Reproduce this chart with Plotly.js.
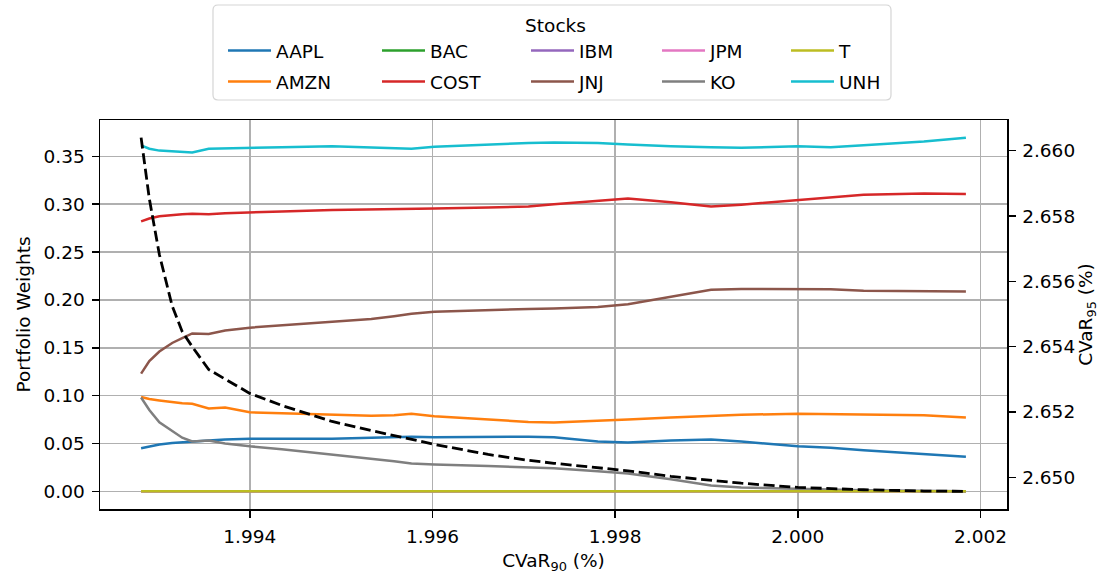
<!DOCTYPE html>
<html>
<head>
<meta charset="utf-8">
<script src="https://cdn.plot.ly/plotly-3.0.1.min.js"></script>
<style>html,body{margin:0;padding:0;background:#fff;}#chart{width:1106px;height:577px;}</style>
</head>
<body>
<div id="chart"></div>
<script>
// CVaR90 (%) values along the frontier
const cvar90 = [1.99281, 1.99290, 1.99301, 1.99315, 1.99326, 1.99337, 1.99355, 1.99373, 1.99400, 1.99435, 1.99490, 1.99533, 1.99558, 1.99577, 1.99602, 1.99661, 1.99705, 1.99733, 1.99781, 1.99814, 1.99861, 1.99905, 1.99938, 2.00000, 2.00036, 2.00072, 2.00138, 2.00184];

const AAPL = [0.045, 0.047, 0.049, 0.0505, 0.051, 0.052, 0.053, 0.054, 0.055, 0.055, 0.055, 0.056, 0.057, 0.057, 0.0565, 0.057, 0.057, 0.0565, 0.052, 0.051, 0.053, 0.054, 0.052, 0.047, 0.0455, 0.043, 0.0385, 0.036];
const AMZN = [0.0985, 0.0965, 0.095, 0.093, 0.092, 0.0915, 0.0865, 0.0875, 0.0825, 0.0815, 0.080, 0.079, 0.0795, 0.081, 0.0785, 0.075, 0.0725, 0.072, 0.0735, 0.075, 0.077, 0.079, 0.080, 0.081, 0.0805, 0.080, 0.0795, 0.077];
const BAC  = [0, 0, 0, 0, 0, 0, 0, 0, 0, 0, 0, 0, 0, 0, 0, 0, 0, 0, 0, 0, 0, 0, 0, 0, 0, 0, 0, 0];
const COST = [0.282, 0.285, 0.2875, 0.289, 0.2895, 0.290, 0.2895, 0.2905, 0.2915, 0.2925, 0.294, 0.2945, 0.2945, 0.295, 0.2955, 0.2965, 0.2975, 0.300, 0.304, 0.306, 0.302, 0.2975, 0.2995, 0.304, 0.307, 0.310, 0.3112, 0.3108];
const IBM  = [0, 0, 0, 0, 0, 0, 0, 0, 0, 0, 0, 0, 0, 0, 0, 0, 0, 0, 0, 0, 0, 0, 0, 0, 0, 0, 0, 0];
const JNJ  = [0.123, 0.136, 0.146, 0.155, 0.160, 0.165, 0.1645, 0.168, 0.171, 0.1735, 0.177, 0.180, 0.183, 0.1855, 0.1875, 0.1895, 0.1905, 0.191, 0.1925, 0.1955, 0.203, 0.2105, 0.2115, 0.2115, 0.2112, 0.2095, 0.209, 0.2088];
const JPM  = [0, 0, 0, 0, 0, 0, 0, 0, 0, 0, 0, 0, 0, 0, 0, 0, 0, 0, 0, 0, 0, 0, 0, 0, 0, 0, 0, 0];
const KO   = [0.098, 0.085, 0.072, 0.063, 0.056, 0.052, 0.053, 0.050, 0.047, 0.044, 0.0385, 0.0345, 0.0315, 0.029, 0.028, 0.0265, 0.025, 0.024, 0.021, 0.0185, 0.0125, 0.006, 0.004, 0.003, 0.002, 0.001, 0.0, 0.0];
const T    = [0, 0, 0, 0, 0, 0, 0, 0, 0, 0, 0, 0, 0, 0, 0, 0, 0, 0, 0, 0, 0, 0, 0, 0, 0, 0, 0, 0];
const UNH  = [0.3615, 0.358, 0.356, 0.355, 0.3545, 0.354, 0.358, 0.3585, 0.359, 0.3595, 0.3605, 0.359, 0.3585, 0.358, 0.360, 0.3625, 0.364, 0.3645, 0.364, 0.3625, 0.3605, 0.3595, 0.359, 0.3605, 0.3595, 0.3615, 0.3655, 0.3695];

// CVaR95 (%) on the secondary axis
const cvar95 = [2.66040, 2.65853, 2.65682, 2.65525, 2.65446, 2.65400, 2.65330, 2.65300, 2.65257, 2.65220, 2.65171, 2.65143, 2.65128, 2.65115, 2.65101, 2.65070, 2.65052, 2.65043, 2.65030, 2.65020, 2.65003, 2.64990, 2.64982, 2.64969, 2.64965, 2.64962, 2.64958, 2.64957];

const stockNames = ['AAPL', 'AMZN', 'BAC', 'COST', 'IBM', 'JNJ', 'JPM', 'KO', 'T', 'UNH'];
const stockValues = [AAPL, AMZN, BAC, COST, IBM, JNJ, JPM, KO, T, UNH];
const colors = ['#1f77b4', '#ff7f0e', '#2ca02c', '#d62728', '#9467bd', '#8c564b', '#e377c2', '#7f7f7f', '#bcbd22', '#17becf'];

const xTicks = [1.994, 1.996, 1.998, 2.000, 2.002];
const yTicks = [0.00, 0.05, 0.10, 0.15, 0.20, 0.25, 0.30, 0.35];
const y2Ticks = [2.650, 2.652, 2.654, 2.656, 2.658, 2.660];

// legend column widths (matplotlib-like columns, filled column-wise)
const colWidths = [96, 91, 73, 71, 44];

const FONT = 'DejaVu Sans, sans-serif';
const FS = 18.5;
const LW = 2.5;

const traces = stockNames.map((name, i) => ({
  type: 'scatter', mode: 'lines', name: name,
  x: cvar90, y: stockValues[i],
  line: {color: colors[i], width: LW},
  legend: (i % 2 === 0) ? 'legend' : 'legend2',
  legendwidth: colWidths[Math.floor(i / 2)],
  hoverinfo: 'skip'
}));

traces.push({
  type: 'scatter', mode: 'lines', name: 'CVaR95',
  x: cvar90, y: cvar95, yaxis: 'y2',
  line: {color: '#000000', width: 2.8, dash: '11px,4.7px'},
  showlegend: false, hoverinfo: 'skip'
});

const W = 1106, H = 577;
const mL = 100, mR = 99, mT = 120, mB = 68;
const pw = W - mL - mR, ph = H - mT - mB;
const px = v => (v - mL) / pw;
const py = v => (H - mB - v) / ph;

// legend frame (rounded)
const bx0 = px(213), bx1 = px(891), byT = py(5), byB = py(100);
const rx = 5 / pw, ry = 5 / ph;
const framePath = `M${bx0 + rx},${byT} L${bx1 - rx},${byT} Q${bx1},${byT} ${bx1},${byT - ry} L${bx1},${byB + ry} Q${bx1},${byB} ${bx1 - rx},${byB} L${bx0 + rx},${byB} Q${bx0},${byB} ${bx0},${byB + ry} L${bx0},${byT - ry} Q${bx0},${byT} ${bx0 + rx},${byT} Z`;

const axisCommon = {
  showline: true, linecolor: '#000', linewidth: 1.5,
  ticks: 'outside', ticklen: 7, tickwidth: 1.5, tickcolor: '#000',
  ticklabelstandoff: 3,
  tickfont: {family: FONT, size: FS, color: '#000'},
  zeroline: false, automargin: false
};

const legendCommon = {
  orientation: 'h', xanchor: 'left', yanchor: 'top',
  bgcolor: 'rgba(0,0,0,0)', borderwidth: 0, itemwidth: 43,
  font: {family: FONT, size: FS, color: '#000'}
};

const layout = {
  width: W, height: H,
  margin: {l: mL, r: mR, t: mT, b: mB, autoexpand: false},
  paper_bgcolor: '#fff', plot_bgcolor: '#fff',
  font: {family: FONT, size: FS, color: '#000'},
  showlegend: true,
  xaxis: Object.assign({}, axisCommon, {
    range: [1.99236, 2.00229], tickmode: 'array', tickvals: xTicks, tickformat: '.3f',
    mirror: true, showgrid: true, gridcolor: '#b0b0b0', gridwidth: 1.5,
    title: {text: 'CVaR<sub>90</sub> (%)', font: {family: FONT, size: FS, color: '#000'}, standoff: 8}
  }),
  yaxis: Object.assign({}, axisCommon, {
    range: [-0.0185, 0.388], tickmode: 'array', tickvals: yTicks, tickformat: '.2f',
    showgrid: true, gridcolor: '#b0b0b0', gridwidth: 1.5,
    title: {text: 'Portfolio Weights', font: {family: FONT, size: FS, color: '#000'}, standoff: 8}
  }),
  yaxis2: Object.assign({}, axisCommon, {
    overlaying: 'y', side: 'right', anchor: 'x',
    range: [2.64903, 2.66094], tickmode: 'array', tickvals: y2Ticks, tickformat: '.3f',
    showgrid: false,
    title: {text: 'CVaR<sub>95</sub> (%)', font: {family: FONT, size: FS, color: '#000'}, standoff: 3}
  }),
  legend: Object.assign({}, legendCommon, {
    x: px(223), y: py(8),
    title: {text: 'Stocks', side: 'top center', font: {family: FONT, size: FS, color: '#000'}}
  }),
  legend2: Object.assign({}, legendCommon, {
    x: px(223), y: py(63)
  }),
  shapes: [{
    type: 'path', xref: 'paper', yref: 'paper', path: framePath,
    line: {color: '#d5d5d5', width: 1.2}, fillcolor: '#ffffff', layer: 'above'
  }]
};

Plotly.newPlot('chart', traces, layout, {staticPlot: true, displayModeBar: false});
</script>
</body>
</html>
